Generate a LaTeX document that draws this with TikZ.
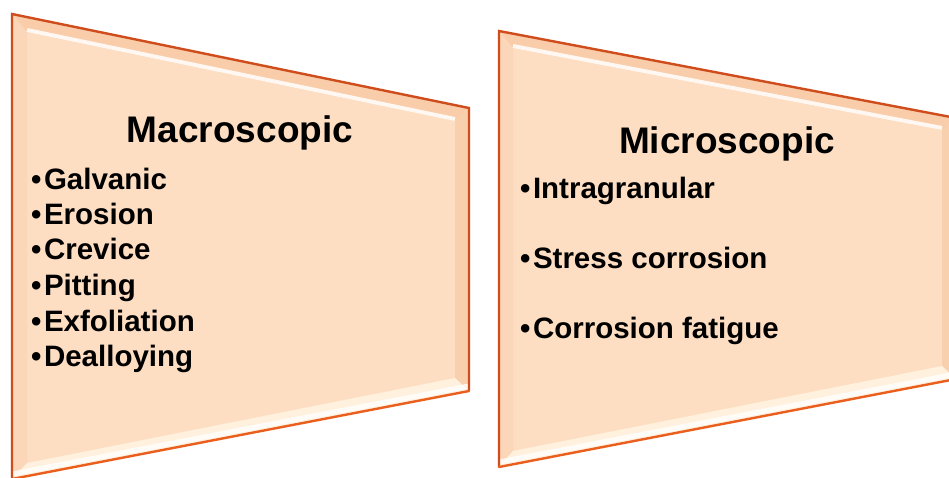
\documentclass[tikz,border=0pt]{standalone}
\usepackage{fontspec}
\setmainfont{Liberation Sans}
\definecolor{peach}{HTML}{FDDEC2}
\definecolor{rimcol}{HTML}{CF4D1C}
\definecolor{rimlow}{HTML}{EA5F1E}
\definecolor{topbev}{HTML}{F9CDA9}
\definecolor{leftbev}{HTML}{FCD6B8}
\definecolor{rightbev}{HTML}{F8D0AE}
\definecolor{botbev}{HTML}{FFF1DE}
\newcommand\bul{•\kern2.5pt}
\begin{document}
\begin{tikzpicture}[x=1pt,y=-1pt,
  shadowfill/.style={fill=black,opacity=0.06},
  titletext/.style={font=\bfseries\fontsize{37}{40}\selectfont,inner sep=0pt,anchor=base},
  itemtext/.style={font=\bfseries\fontsize{29.5}{32}\selectfont,inner sep=0pt,anchor=base west},
  rim/.style={draw=rimcol,line width=2.4pt,line join=miter},
  rimbottom/.style={draw=rimlow,line width=2.4pt,line cap=round},
  highlight/.style={draw=white,line width=4pt,opacity=0.85},
  cream/.style={draw=white,line width=5pt,opacity=0.8}]
\useasboundingbox (0,0) rectangle (949,477);
\fill[white] (0,0) rectangle (949,477);
\clip (0,0) rectangle (949,477);

% ---------- left panel ----------
\coordinate (LA) at (12,14);
\coordinate (LB) at (469,108);
\coordinate (LC) at (469,391);
\coordinate (LD) at (12,479);
\coordinate (la) at (27,32);
\coordinate (lb) at (455,121);
\coordinate (lc) at (455,378);
\coordinate (ld) at (27,463);
\foreach \s in {2,4,6}{
  \fill[shadowfill,shift={(\s,\s)}] (LA) -- (LB) -- (LC) -- (LD) -- cycle;}
\fill[peach] (LA) -- (LB) -- (LC) -- (LD) -- cycle;
\fill[topbev] (LA) -- (LB) -- (lb) -- (la) -- cycle;
\fill[leftbev] (LA) -- (la) -- (ld) -- (LD) -- cycle;
\fill[rightbev] (LB) -- (LC) -- (lc) -- (lb) -- cycle;
\fill[botbev] (LD) -- (ld) -- (lc) -- (LC) -- cycle;
\draw[highlight] ([shift={(0,-2)}]la) -- ([shift={(0,-2)}]lb);
\draw[cream] ([shift={(0,-5)}]LD) -- ([shift={(0,-5)}]LC);
\draw[rim] (LD) -- (LA) -- (LB) -- (LC);
\draw[rimbottom] (LC) -- (LD);

\node[titletext] (mactitle) at (240,142) {Macroscopic};
\node[itemtext] (galv) at (31,189) {\bul Galvanic};
\node[itemtext] (eros) at (31,224) {\bul Erosion};
\node[itemtext] (crev) at (31,259) {\bul Crevice};
\node[itemtext] (pitt) at (31,295) {\bul Pitting};
\node[itemtext] (exfo) at (31,331) {\bul Exfoliation};
\node[itemtext] (deal) at (31,366) {\bul Dealloying};

% ---------- right panel ----------
\coordinate (RA) at (499,31);
\coordinate (RB) at (956,118);
\coordinate (RC) at (956,379);
\coordinate (RD) at (499,467);
\coordinate (ra) at (513,48);
\coordinate (rb) at (942,130);
\coordinate (rc) at (942,366);
\coordinate (rd) at (513,451);
\foreach \s in {2,4,6}{
  \fill[shadowfill,shift={(\s,\s)}] (RA) -- (RB) -- (RC) -- (RD) -- cycle;}
\fill[peach] (RA) -- (RB) -- (RC) -- (RD) -- cycle;
\fill[topbev] (RA) -- (RB) -- (rb) -- (ra) -- cycle;
\fill[leftbev] (RA) -- (ra) -- (rd) -- (RD) -- cycle;
\fill[rightbev] (RB) -- (RC) -- (rc) -- (rb) -- cycle;
\fill[botbev] (RD) -- (rd) -- (rc) -- (RC) -- cycle;
\draw[highlight] ([shift={(0,-2)}]ra) -- ([shift={(0,-2)}]rb);
\draw[cream] ([shift={(0,-5)}]RD) -- ([shift={(0,-5)}]RC);
\draw[rim] (RD) -- (RA) -- (RB) -- (RC);
\draw[rimbottom] (RC) -- (RD);

\node[titletext] (mictitle) at (727,153) {Microscopic};
\node[itemtext] (intra) at (520,198) {\bul Intragranular};
\node[itemtext] (stress) at (520,268) {\bul Stress corrosion};
\node[itemtext] (fatig) at (520,338) {\bul Corrosion fatigue};
\end{tikzpicture}
\end{document}
